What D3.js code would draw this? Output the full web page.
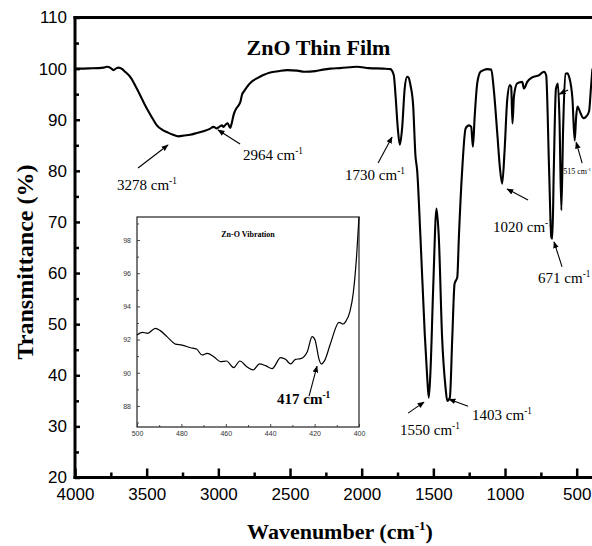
<!DOCTYPE html>
<html>
<head>
<meta charset="utf-8">
<script src="https://cdn.jsdelivr.net/npm/d3@7/dist/d3.min.js"></script>
<style>
  html, body { margin: 0; padding: 0; background: #fff; }
  svg { display: block; }
</style>
</head>
<body>
<script>
// ---------------- DATA ----------------
const mainWavenumber = [4000,3900,3800,3779,3750,3732,3710,3697,3670,3651,3610,3569,3530,3499,3460,3429,3390,3360,3320,3278,3240,3197,3150,3104,3060,3034,3010,2990,2975,2964,2950,2935,2917,2905,2894,2875,2859,2845,2836,2820,2801,2770,2731,2690,2638,2580,2521,2450,2400,2323,2270,2218,2150,2032,1950,1850,1800,1776,1764,1748,1734,1718,1700,1683,1672,1660,1641,1625,1613,1590,1560,1543,1532,1520,1501,1478,1462,1439,1415,1403,1385,1368,1352,1333,1322,1299,1275,1252,1236,1224,1212,1194,1171,1150,1124,1096,1078,1054,1036,1020,1003,985,966,957,948,938,915,880,868,845,810,763,728,713,693,677,670,660,645,631,620,607,595,577,565,553,530,514,504,495,472,454,437,414,400,390];
const mainTransmittance = [100.0,100.05,100.2,100.35,100.1,99.7,100.1,100.2,99.9,99.4,98.2,96.1,93.9,92.2,90.3,88.9,88.0,87.6,87.1,86.75,86.9,87.05,87.4,87.75,88.2,88.6,88.3,88.7,88.9,88.6,89.0,89.3,88.4,89.5,90.9,92.2,92.8,93.6,94.8,95.6,96.4,97.4,98.1,98.7,99.25,99.5,99.7,99.6,99.4,99.5,99.8,100.0,100.1,100.35,100.1,100.0,99.9,98.7,94.8,88.3,85.1,88.3,96.1,98.4,98.2,96.8,92.8,83.0,80.1,67.0,48.1,39.6,35.6,40.9,57.2,72.6,67.0,47.4,37.6,35.0,35.6,47.4,57.9,59.2,67.0,80.1,88.3,88.9,88.6,84.7,90.5,97.1,99.4,99.7,99.9,99.8,95.8,87.3,80.7,77.5,84.0,93.8,96.8,96.4,89.25,94.5,97.1,97.4,96.1,97.4,98.3,98.7,99.4,98.7,80.7,67.0,66.7,80.0,96.0,97.1,90.0,72.3,88.0,99.0,99.1,98.4,94.2,85.9,90.5,92.6,91.2,90.3,90.5,91.6,96.5,100.0];

const insetWavenumber = [500,497.7,495.2,491.7,489.5,486.5,482.7,479.7,475.9,473.2,470.7,468.4,465.4,462.4,459.7,456.4,453.7,450.4,447.7,444.8,442.1,439.1,435.3,433.1,430.8,428.6,426.3,423.3,421.1,419.8,418.0,417.0,415.5,412.8,409.0,407.1,406.0,404.1,402.6,401.1,400.0];
const insetTransmittance = [92.28,92.44,92.38,92.68,92.54,92.18,91.73,91.67,91.51,91.43,91.07,91.17,90.97,90.67,90.71,90.31,90.71,90.35,90.17,90.53,90.43,90.25,90.91,90.81,90.53,90.81,90.85,91.27,92.18,91.98,90.81,90.53,90.73,91.78,93.04,92.94,93.08,93.68,94.79,97.0,99.4];

const xTickValues = [4000,3500,3000,2500,2000,1500,1000,500];
const xMinorTickValues = [3750,3250,2750,2250,1750,1250,750];
const yTickValues = [20,30,40,50,60,70,80,90,100,110];
const yMinorTickValues = [25,35,45,55,65,75,85,95,105];
const insetXTickValues = [500,480,460,440,420,400];
const insetXMinorTickValues = [490,470,450,430,410];
const insetYTickValues = [88,90,92,94,96,98];
const insetYMinorTickValues = [87,89,91,93,95,97,99];

const peakLabels = ["3278","2964","1730","1550","1403","1020","671","515"];
const peakArrowW = [3351,3002,1788,1565,1390,986,658,504];
const peakArrowT = [85.05,88.0,86.6,34.75,35.3,76.45,66.1,85.6];
const insetPeakLabel = "417";
const insetPeakW = 418.9;
const insetPeakT = 90.4;

const chartTitle = "ZnO Thin Film";
const insetTitle = "Zn-O Vibration";
const xTitle = "Wavenumber (cm";
const yTitle = "Transmittance (%)";

// ---------------- LAYOUT ----------------
const W = 592, H = 546;
const serif = "'Liberation Serif','Times New Roman',Times,serif";
const sans = "'Liberation Sans',Arial,Helvetica,sans-serif";

// tail offset (dx,dy), text offset (dx,dy), font size for each peak label
const peakLayout = [
  {tail:[-30,23], text:[-51,45], fs:15},
  {tail:[22,14],  text:[25,30],  fs:15},
  {tail:[-14,26], text:[-47,43], fs:15},
  {tail:[-16,11], text:[-24,33], fs:15},
  {tail:[19,7],   text:[23,21],  fs:15},
  {tail:[21,11],  text:[-14,43], fs:15},
  {tail:[8,25],   text:[-16,41], fs:15},
  {tail:[6,21],   text:[-13,32], fs:8}
];

const svg = d3.select("body").append("svg")
  .attr("width", W).attr("height", H)
  .attr("viewBox", `0 0 ${W} ${H}`);

svg.append("defs").append("marker")
  .attr("id","arrow").attr("viewBox","0 0 10 10")
  .attr("refX",9).attr("refY",5)
  .attr("markerWidth",7).attr("markerHeight",7)
  .attr("markerUnits","userSpaceOnUse")
  .attr("orient","auto")
  .append("path").attr("d","M0,1 L10,5 L0,9 Z").attr("fill","#000");

const x = d3.scaleLinear().domain([4000, 500]).range([75, 576.7]);
const y = d3.scaleLinear().domain([20, 110]).range([477.5, 17.5]);

svg.append("clipPath").attr("id","plotclip")
  .append("rect").attr("x",75).attr("y",17.5).attr("width",W-75).attr("height",460);

// main curve
const mainData = mainWavenumber.map((w,i)=>[w, mainTransmittance[i]]);
const line = d3.line().x(d=>x(d[0])).y(d=>y(d[1])).curve(d3.curveMonotoneX);
svg.append("path").datum(mainData)
  .attr("clip-path","url(#plotclip)")
  .attr("d", line).attr("fill","none")
  .attr("stroke","#000").attr("stroke-width",2.1).attr("stroke-linejoin","round");

// axes
function styleAxis(g, fs) {
  g.select(".domain").remove();
  g.selectAll(".tick line").attr("stroke","#000").attr("stroke-width",2.5);
  g.selectAll(".tick text").attr("font-family",sans).attr("font-size",fs).attr("fill","#000");
}
const gx = svg.append("g").attr("transform","translate(0,477.5)")
  .call(d3.axisBottom(x).tickValues(xTickValues).tickSizeInner(-9).tickSizeOuter(0).tickPadding(10).tickFormat(d3.format("d")));
styleAxis(gx, 17);
const gxm = svg.append("g").attr("transform","translate(0,477.5)")
  .call(d3.axisBottom(x).tickValues(xMinorTickValues).tickSizeInner(-5).tickSizeOuter(0).tickFormat(""));
styleAxis(gxm, 17);
const gy = svg.append("g").attr("transform","translate(75,0)")
  .call(d3.axisLeft(y).tickValues(yTickValues).tickSizeInner(-5).tickSizeOuter(0).tickPadding(8).tickFormat(d3.format("d")));
styleAxis(gy, 17);
const gym = svg.append("g").attr("transform","translate(75,0)")
  .call(d3.axisLeft(y).tickValues(yMinorTickValues).tickSizeInner(-4).tickSizeOuter(0).tickFormat(""));
styleAxis(gym, 17);

// frame
const frame = svg.append("g").attr("stroke","#000").attr("stroke-width",3).attr("stroke-linecap","square");
frame.append("line").attr("x1",75).attr("x2",75).attr("y1",y(110)).attr("y2",y(20));
frame.append("line").attr("x1",75).attr("x2",W+2).attr("y1",y(20)).attr("y2",y(20));
frame.append("line").attr("x1",75).attr("x2",W+2).attr("y1",y(110)).attr("y2",y(110));

// titles
function supText(g, tx, ty, main, sup, fs, weight, anchor) {
  const t = g.append("text").attr("x",tx).attr("y",ty)
    .attr("font-family",serif).attr("font-size",fs).attr("font-weight",weight)
    .attr("text-anchor",anchor||"start").attr("fill","#000");
  t.append("tspan").text(main);
  t.append("tspan").attr("dy",-fs*0.42).attr("font-size",fs*0.62).text(sup);
  return t;
}

svg.append("text").attr("x",318.5).attr("y",55)
  .attr("font-family",serif).attr("font-size",22).attr("font-weight","bold")
  .attr("text-anchor","middle").text(chartTitle);

const xt = svg.append("text").attr("x",340).attr("y",539)
  .attr("font-family",serif).attr("font-size",22).attr("font-weight","bold")
  .attr("text-anchor","middle");
xt.append("tspan").text(xTitle);
xt.append("tspan").attr("dy",-9).attr("font-size",13).text("-1");
xt.append("tspan").attr("dy",9).text(")");

svg.append("text").attr("transform","translate(33,262) rotate(-90)")
  .attr("font-family",serif).attr("font-size",24).attr("font-weight","bold")
  .attr("text-anchor","middle").text(yTitle);

// peak annotations
const ann = svg.append("g");
peakLabels.forEach((lab,i)=>{
  const hx = x(peakArrowW[i]), hy = y(peakArrowT[i]);
  const L = peakLayout[i];
  ann.append("line").attr("x1",hx+L.tail[0]).attr("y1",hy+L.tail[1])
    .attr("x2",hx).attr("y2",hy).attr("stroke","#000").attr("stroke-width",1.1)
    .attr("marker-end","url(#arrow)");
  supText(ann, hx+L.text[0], hy+L.text[1], lab+" cm", "-1", L.fs, "normal");
});
// small unlabelled arrow near 600 cm-1
ann.append("line").attr("x1",x(560)).attr("y1",y(95.8)).attr("x2",x(622)).attr("y2",y(95.0))
  .attr("stroke","#000").attr("stroke-width",1.1).attr("marker-end","url(#arrow)");

// ---------------- INSET ----------------
const ix = d3.scaleLinear().domain([500,400]).range([137,359]);
const iy = d3.scaleLinear().domain([86.73,99.39]).range([427,217]);
const inset = svg.append("g");
inset.append("rect").attr("x",137).attr("y",217).attr("width",222).attr("height",210)
  .attr("fill","#fff").attr("stroke","#222").attr("stroke-width",1.2);

function styleInset(g){
  g.select(".domain").remove();
  g.selectAll(".tick line").attr("stroke","#333").attr("stroke-width",0.9);
  g.selectAll(".tick text").attr("font-family",sans).attr("font-size",7).attr("fill","#333");
}
const igx = inset.append("g").attr("transform","translate(0,427)")
  .call(d3.axisBottom(ix).tickValues(insetXTickValues).tickSizeInner(-3).tickSizeOuter(0).tickPadding(4).tickFormat(d3.format("d")));
styleInset(igx);
const igxm = inset.append("g").attr("transform","translate(0,427)")
  .call(d3.axisBottom(ix).tickValues(insetXMinorTickValues).tickSizeInner(-2).tickSizeOuter(0).tickFormat(""));
styleInset(igxm);
const igy = inset.append("g").attr("transform","translate(137,0)")
  .call(d3.axisLeft(iy).tickValues(insetYTickValues).tickSizeInner(-3).tickSizeOuter(0).tickPadding(6).tickFormat(d3.format("d")));
styleInset(igy);
const igym = inset.append("g").attr("transform","translate(137,0)")
  .call(d3.axisLeft(iy).tickValues(insetYMinorTickValues).tickSizeInner(-2).tickSizeOuter(0).tickFormat(""));
styleInset(igym);

const insetData = insetWavenumber.map((w,i)=>[w, insetTransmittance[i]]);
inset.append("path").datum(insetData)
  .attr("d", d3.line().x(d=>ix(d[0])).y(d=>iy(d[1])).curve(d3.curveMonotoneX))
  .attr("fill","none").attr("stroke","#000").attr("stroke-width",1.2);

inset.append("text").attr("x",248).attr("y",237)
  .attr("font-family",serif).attr("font-size",8).attr("font-weight","bold")
  .attr("text-anchor","middle").text(insetTitle);

const ihx = ix(insetPeakW), ihy = iy(insetPeakT);
inset.append("line").attr("x1",ihx-8).attr("y1",ihy+30).attr("x2",ihx).attr("y2",ihy)
  .attr("stroke","#000").attr("stroke-width",1.1).attr("marker-end","url(#arrow)");
supText(inset, ihx-40, ihy+38, insetPeakLabel+" cm", "-1", 15, "bold");
</script>
</body>
</html>
